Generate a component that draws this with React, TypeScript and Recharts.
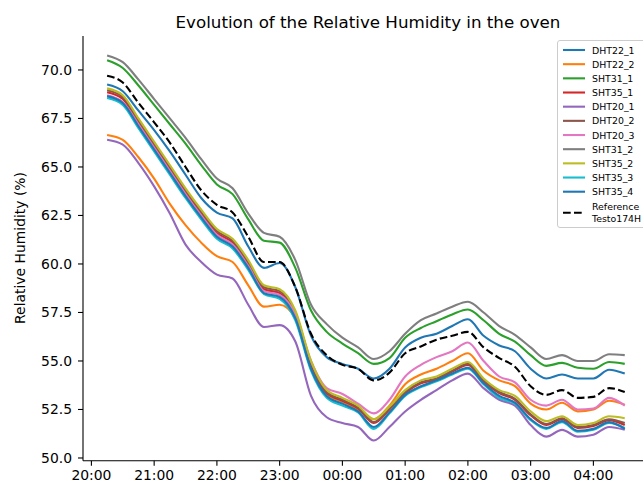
import React from 'react';
import { LineChart, Line, XAxis, YAxis } from 'recharts';

// hours after 20:00, one sample every 15 min
const TIMES = [0.25, 0.5, 0.75, 1, 1.25, 1.5, 1.75, 2, 2.25, 2.5, 2.75, 3, 3.25, 3.5, 3.75, 4, 4.25, 4.5, 4.75, 5, 5.25, 5.5, 5.75, 6, 6.25, 6.5, 6.75, 7, 7.25, 7.5, 7.75, 8, 8.25, 8.5];

const DHT22_1 = [69.25, 68.9, 67.9, 66.9, 65.8, 64.6, 63.4, 62.65, 62.35, 60.9, 59.8, 60.05, 58.8, 56.3, 55.2, 54.85, 54.6, 54.1, 54.6, 55.7, 56.2, 56.4, 56.8, 57.15, 56.3, 55.8, 55.5, 54.6, 54.1, 54.3, 54.1, 54.1, 54.55, 54.35];
const DHT22_2 = [66.65, 66.4, 65.5, 64.4, 63.1, 62.0, 61.1, 60.4, 60.1, 58.9, 57.8, 57.9, 57.2, 54.6, 53.3, 52.9, 52.5, 52.0, 52.7, 53.8, 54.3, 54.6, 55.0, 55.4, 54.5, 54.0, 53.7, 52.8, 52.5, 52.85, 52.4, 52.5, 52.95, 52.75];
const SHT31_1 = [70.5, 70.1, 69.2, 68.2, 67.2, 66.2, 65.1, 64.1, 63.6, 62.3, 61.2, 61.1, 59.8, 57.6, 56.5, 55.9, 55.4, 54.85, 55.15, 56.2, 56.7, 57.05, 57.4, 57.65, 57.1, 56.4, 56.0, 55.3, 54.75, 54.9, 54.65, 54.6, 54.95, 54.85];
const SHT35_1 = [68.85, 68.5, 67.3, 66.1, 64.9, 63.7, 62.6, 61.6, 61.1, 60.0, 58.7, 58.5, 57.4, 54.8, 53.35, 52.95, 52.55, 51.8, 52.5, 53.35, 53.85, 54.05, 54.45, 54.8, 53.95, 53.35, 53.0, 52.2, 51.7, 52.0, 51.55, 51.65, 51.95, 51.7];
const DHT20_1 = [66.4, 66.15, 65.2, 64.0, 62.6, 61.0, 60.1, 59.45, 59.25, 57.9, 56.75, 56.85, 56.0, 53.2, 52.1, 51.8, 51.6, 50.9, 51.6, 52.4, 53.0, 53.5, 54.0, 54.35, 53.6, 53.0, 52.7, 51.7, 51.1, 51.45, 51.1, 51.2, 51.6, 51.45];
const DHT20_2 = [68.95, 68.6, 67.4, 66.2, 65.0, 63.8, 62.7, 61.7, 61.2, 60.1, 58.8, 58.6, 57.5, 54.9, 53.4, 53.0, 52.6, 51.85, 52.55, 53.4, 53.9, 54.1, 54.5, 54.85, 54.0, 53.4, 53.05, 52.25, 51.75, 52.05, 51.6, 51.7, 52.0, 51.8];
const DHT20_3 = [68.7, 68.35, 67.2, 66.0, 64.8, 63.6, 62.5, 61.5, 61.0, 59.9, 58.6, 58.4, 57.4, 55.0, 53.6, 53.3, 52.8, 52.3, 53.0, 54.2, 54.8, 55.2, 55.5, 55.95, 55.0, 54.2, 53.9, 53.0, 52.7, 53.0, 52.5, 52.55, 53.1, 52.7];
const SHT31_2 = [70.75, 70.4, 69.5, 68.5, 67.5, 66.5, 65.4, 64.4, 63.9, 62.6, 61.6, 61.4, 60.2, 57.9, 56.9, 56.2, 55.7, 55.1, 55.5, 56.4, 57.1, 57.45, 57.8, 58.05, 57.5, 56.8, 56.35, 55.7, 55.1, 55.3, 55.0, 55.0, 55.35, 55.3];
const SHT35_2 = [69.05, 68.7, 67.5, 66.3, 65.1, 63.9, 62.8, 61.8, 61.3, 60.2, 58.9, 58.7, 57.6, 55.0, 53.5, 53.1, 52.7, 52.0, 52.65, 53.5, 54.0, 54.2, 54.6, 54.95, 54.1, 53.5, 53.2, 52.4, 51.9, 52.15, 51.7, 51.8, 52.15, 52.05];
const SHT35_3 = [68.55, 68.2, 67.0, 65.8, 64.6, 63.4, 62.3, 61.3, 60.8, 59.7, 58.45, 58.2, 57.1, 54.5, 53.1, 52.7, 52.35, 51.5, 52.3, 53.2, 53.65, 53.95, 54.3, 54.6, 53.8, 53.1, 52.8, 51.95, 51.5, 51.85, 51.35, 51.45, 51.8, 51.55];
const SHT35_4 = [68.65, 68.3, 67.1, 65.9, 64.7, 63.5, 62.4, 61.4, 60.9, 59.8, 58.5, 58.3, 57.2, 54.6, 53.2, 52.8, 52.4, 51.6, 52.35, 53.25, 53.7, 54.0, 54.35, 54.65, 53.85, 53.2, 52.85, 52.0, 51.55, 51.9, 51.4, 51.5, 51.85, 51.5];
const REFERENCE = [69.7, 69.35, 68.3, 67.3, 66.25, 65.0, 63.8, 63.05, 62.65, 61.4, 60.1, 60.1, 58.8, 56.4, 55.3, 54.8, 54.6, 54.0, 54.4, 55.4, 55.75, 56.1, 56.3, 56.5, 55.7, 55.15, 54.7, 53.7, 53.25, 53.5, 53.1, 53.15, 53.6, 53.4];

const X_TICKS = [0, 1, 2, 3, 4, 5, 6, 7, 8];
const Y_TICKS = [50, 52.5, 55, 57.5, 60, 62.5, 65, 67.5, 70];

const SERIES = [
  { key: 'DHT22_1', color: '#1f77b4', values: DHT22_1 },
  { key: 'DHT22_2', color: '#ff7f0e', values: DHT22_2 },
  { key: 'SHT31_1', color: '#2ca02c', values: SHT31_1 },
  { key: 'SHT35_1', color: '#d62728', values: SHT35_1 },
  { key: 'DHT20_1', color: '#9467bd', values: DHT20_1 },
  { key: 'DHT20_2', color: '#8c564b', values: DHT20_2 },
  { key: 'DHT20_3', color: '#e377c2', values: DHT20_3 },
  { key: 'SHT31_2', color: '#7f7f7f', values: SHT31_2 },
  { key: 'SHT35_2', color: '#bcbd22', values: SHT35_2 },
  { key: 'SHT35_3', color: '#17becf', values: SHT35_3 },
  { key: 'SHT35_4', color: '#1f77b4', values: SHT35_4 },
];

const data = TIMES.map((t, i) => {
  const row: any = { t, Reference: REFERENCE[i] };
  SERIES.forEach((s) => { row[s.key] = s.values[i]; });
  return row;
});

const FONT = 'DejaVu Sans, sans-serif';
const X_DOMAIN = [-0.134, 8.95];
const Y_DOMAIN = [49.86, 71.75];

const fmtHour = (h: number) => String((20 + h) % 24).padStart(2, '0') + ':00';

function LegendBox() {
  const rowH = 14.17;
  return (
    <svg width={90} height={190} style={{ position: 'absolute', left: 557, top: 40 }}>
      <rect x={0.5} y={0.5} width={95} height={187} rx={2.5} fill="rgba(255,255,255,0.8)" stroke="#cccccc" strokeWidth={1} />
      {SERIES.map((s, i) => {
        const y = 10 + rowH * i;
        return (
          <g key={s.key}>
            <line x1={6} x2={28} y1={y} y2={y} stroke={s.color} strokeWidth={2.1} />
            <text x={35} y={y} dominantBaseline="central" fontSize={9.4} fontFamily={FONT} fill="#000">{s.key}</text>
          </g>
        );
      })}
      <line x1={6} x2={28} y1={172.7} y2={172.7} stroke="#000" strokeWidth={2.1} strokeDasharray="7.7 3.3" />
      <text x={35} y={166} dominantBaseline="central" fontSize={9.4} fontFamily={FONT} fill="#000">Reference</text>
      <text x={35} y={178.3} dominantBaseline="central" fontSize={9.4} fontFamily={FONT} fill="#000">Testo174H</text>
    </svg>
  );
}

export default function App() {
  return (
    <div style={{ position: 'absolute', left: 0, top: 0, width: 643, height: 491, overflow: 'hidden', background: '#fff' }}>
      <div style={{ position: 'absolute', left: 0, top: 13.6, width: 736, textAlign: 'center', fontFamily: FONT, fontSize: 16.7, lineHeight: '16.7px', color: '#000' }}>
        Evolution of the Relative Humidity in the oven
      </div>
      <LineChart width={680} height={491} data={data} margin={{ top: 36, right: 27, left: 0, bottom: 0 }}>
        <XAxis
          dataKey="t"
          type="number"
          domain={X_DOMAIN}
          ticks={X_TICKS}
          tickFormatter={fmtHour}
          allowDataOverflow
          height={30.3}
          tickSize={5}
          tickMargin={4}
          stroke="#000"
          strokeWidth={1.1}
          tick={{ fill: '#000', fontSize: 13.9, fontFamily: FONT }}
        />
        <XAxis
          xAxisId="top"
          orientation="top"
          dataKey="t"
          type="number"
          domain={X_DOMAIN}
          allowDataOverflow
          height={0}
          tick={false}
          tickLine={false}
          stroke="#000"
          strokeWidth={1.1}
        />
        <YAxis
          type="number"
          domain={Y_DOMAIN}
          ticks={Y_TICKS}
          allowDataOverflow
          width={83}
          tickSize={5}
          tickMargin={6}
          tickFormatter={(v: number) => v.toFixed(1)}
          stroke="#000"
          strokeWidth={1.1}
          tick={{ fill: '#000', fontSize: 13.9, fontFamily: FONT }}
          label={{
            content: () => (
              <text x={20} y={248} transform="rotate(-90 20 248)" textAnchor="middle" dominantBaseline="central" fontSize={13.9} fontFamily={FONT} fill="#000">
                Relative Humidity (%)
              </text>
            ),
          }}
        />
        {SERIES.map((s) => (
          <Line key={s.key} dataKey={s.key} type="monotone" stroke={s.color} strokeWidth={2.1} dot={false} isAnimationActive={false} />
        ))}
        <Line dataKey="Reference" type="monotone" stroke="#000" strokeWidth={2.1} strokeDasharray="7.7 3.3" dot={false} isAnimationActive={false} />
      </LineChart>
      <LegendBox />
    </div>
  );
}
